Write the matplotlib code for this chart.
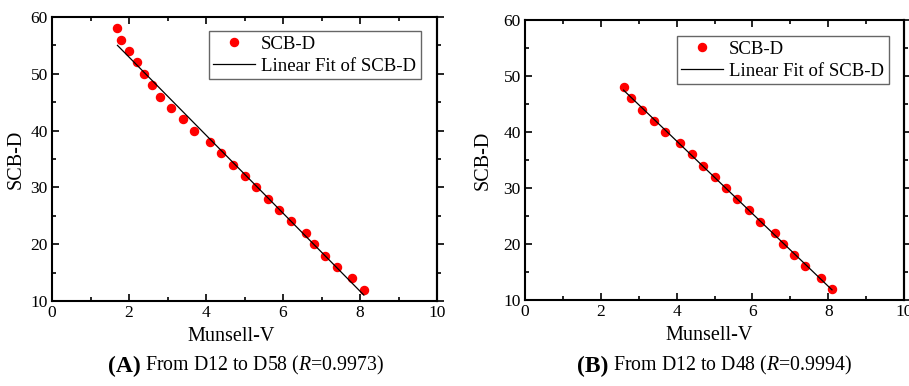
import numpy as np
import matplotlib
matplotlib.use('Agg')
import matplotlib.pyplot as plt
from matplotlib.ticker import MultipleLocator

plt.rcParams['font.family'] = ['Liberation Serif', 'DejaVu Serif']
plt.rcParams['mathtext.fontset'] = 'custom'
plt.rcParams['mathtext.rm'] = 'Liberation Serif'
plt.rcParams['mathtext.it'] = 'Liberation Serif:italic'
plt.rcParams['mathtext.bf'] = 'Liberation Serif:bold'

# Munsell value vs SCB-D grade, D12..D58
munsell_a = [1.7, 1.8, 2.0, 2.2, 2.4, 2.6, 2.8, 3.1, 3.4, 3.7, 4.1, 4.4,
             4.7, 5.0, 5.3, 5.6, 5.9, 6.2, 6.6, 6.8, 7.1, 7.4, 7.8, 8.1]
scb_a = [58, 56, 54, 52, 50, 48, 46, 44, 42, 40, 38, 36,
         34, 32, 30, 28, 26, 24, 22, 20, 18, 16, 14, 12]

# D12..D48 subset
munsell_b = [2.6, 2.8, 3.1, 3.4, 3.7, 4.1, 4.4, 4.7, 5.0, 5.3,
             5.6, 5.9, 6.2, 6.6, 6.8, 7.1, 7.4, 7.8, 8.1]
scb_b = [48, 46, 44, 42, 40, 38, 36, 34, 32, 30,
         28, 26, 24, 22, 20, 18, 16, 14, 12]

panels = [
    ('(A)', 'From D12 to D58 (', '0.9973)', munsell_a, scb_a),
    ('(B)', 'From D12 to D48 (', '0.9994)', munsell_b, scb_b),
]
axes_pos = [[52/909, 85/386, 385/909, 284/386],
            [525/909, 86/386, 379/909, 280/386]]
legend_anchor = [(0.958, 0.951), (0.960, 0.943)]
caption_x = [108/909, 577/909]
xlabel_x = [0.465, 0.485]
ylabel_pad = [3.7, 8]

fig = plt.figure(figsize=(9.09, 3.86), dpi=100)

for i, (tag, txt, rval, xs, ys) in enumerate(panels):
    ax = fig.add_axes(axes_pos[i])
    xs = np.array(xs)
    ys = np.array(ys)
    k, b = np.polyfit(xs, ys, 1)
    xl = np.array([xs.min(), xs.max()])
    ax.plot(xs, ys, 'o', color='red', ms=5.8, label='SCB-D', zorder=3)
    ax.plot(xl, k*xl + b, '-', color='black', lw=0.9, label='Linear Fit of SCB-D', zorder=4)

    ax.set_xlim(0, 10)
    ax.set_ylim(10, 60)
    ax.xaxis.set_major_locator(MultipleLocator(2))
    ax.xaxis.set_minor_locator(MultipleLocator(1))
    ax.yaxis.set_major_locator(MultipleLocator(10))
    ax.yaxis.set_minor_locator(MultipleLocator(5))
    for s in ax.spines.values():
        s.set_linewidth(1.5)
    ax.tick_params(which='both', direction='in', top=True, right=False, width=1.2, labelsize=12.5, pad=3)
    ax.tick_params(which='major', length=5)
    ax.tick_params(which='minor', length=3)
    # right axis ticks sit on the outside
    sec = ax.secondary_yaxis('right')
    sec.yaxis.set_major_locator(MultipleLocator(10))
    sec.yaxis.set_minor_locator(MultipleLocator(5))
    sec.tick_params(which='both', direction='out', width=1.2, labelright=False)
    sec.tick_params(which='major', length=5)
    sec.tick_params(which='minor', length=3)
    sec.spines['right'].set_linewidth(1.5)

    ax.set_xlabel('Munsell-V', fontsize=14.5, labelpad=4)
    ax.xaxis.label.set_x(xlabel_x[i])
    ax.set_ylabel('SCB-D', fontsize=14.5, labelpad=ylabel_pad[i])

    leg = ax.legend(loc='upper right', bbox_to_anchor=legend_anchor[i], borderaxespad=0,
                    fontsize=13.5, fancybox=False, edgecolor='#666666', framealpha=1,
                    handlelength=2.2, handletextpad=0.35, labelspacing=0.25,
                    borderpad=0.25, numpoints=1)
    leg.get_frame().set_linewidth(1.0)

    t1 = fig.text(caption_x[i], 14/386, tag, fontsize=17, fontweight='bold', va='baseline')
    fig.canvas.draw()
    ax.annotate(txt + r'$\mathit{R}$=' + rval, xy=(1, 0), xycoords=t1,
                xytext=(3, 0), textcoords='offset points', fontsize=14.3,
                va='bottom', ha='left', annotation_clip=False)

fig.savefig('out.png', dpi=100)
